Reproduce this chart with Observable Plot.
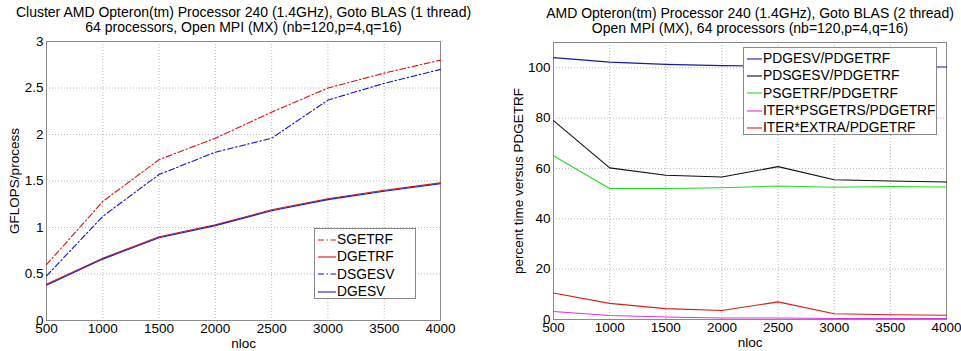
<!DOCTYPE html>
<html><head><meta charset="utf-8">
<script src="https://cdn.jsdelivr.net/npm/d3@7"></script>
<script src="https://cdn.jsdelivr.net/npm/@observablehq/plot@0.6"></script>
<style>
body{margin:0;background:#fff;font-family:"Liberation Sans",Arial,sans-serif;}
#wrap{position:relative;width:961px;height:351px;overflow:hidden;}
#left{position:absolute;left:0;top:0}
#right{position:absolute;left:480px;top:0}
.legend{position:absolute;background:#fff;border:1px solid #888;font-size:13.8px;color:#000;box-sizing:border-box;padding:2px 3px 0 3px;}
.legend .row{display:flex;align-items:center;height:17.3px;white-space:nowrap;}
.legend svg{flex:none;margin-right:1px}
</style></head>
<body><div id="wrap"><div id="left"></div><div id="right"></div></div>
<script>
// ---------- data ----------
const nloc = [500, 1000, 1500, 2000, 2500, 3000, 3500, 4000];
// left panel (GFLOPS/process)
const sgetrf = [0.60, 1.28, 1.73, 1.96, 2.24, 2.50, 2.66, 2.80];
const dgetrf = [0.39, 0.67, 0.90, 1.03, 1.19, 1.31, 1.40, 1.48];
const dsgesv = [0.48, 1.12, 1.57, 1.81, 1.96, 2.37, 2.55, 2.70];
const dgesv  = [0.38, 0.66, 0.89, 1.02, 1.18, 1.30, 1.39, 1.47];
// right panel (percent time versus PDGETRF)
const pdgesvR   = [104.0, 102.2, 101.3, 100.8, 100.6, 100.5, 100.4, 100.3];
const pdsgesvR  = [79.0, 60.2, 57.3, 56.6, 60.7, 55.5, 55.0, 54.6];
const psgetrfR  = [65.0, 52.0, 52.0, 52.3, 53.0, 52.5, 52.8, 52.6];
const iterPsgetrsR = [3.2, 1.6, 1.0, 0.6, 0.6, 0.4, 0.4, 0.4];
const iterExtraR   = [10.5, 6.4, 4.3, 3.6, 7.0, 2.3, 1.9, 1.7];

const xTicks = nloc;
const leftYTicks = [0, 0.5, 1, 1.5, 2, 2.5, 3];
const rightYTicks = [0, 20, 40, 60, 80, 100];

const leftTitle = ["Cluster AMD Opteron(tm) Processor 240 (1.4GHz), Goto BLAS (1 thread)",
                   "64 processors, Open MPI (MX) (nb=120,p=4,q=16)"];
const rightTitle = ["AMD Opteron(tm) Processor 240 (1.4GHz), Goto BLAS (2 thread)",
                    "Open MPI (MX), 64 processors (nb=120,p=4,q=16)"];

const leftSeries = [
  {name: "SGETRF", values: sgetrf, color: "#e01010", dash: "6,2.5,1.5,2.5"},
  {name: "DGETRF", values: dgetrf, color: "#e01010", dash: null},
  {name: "DSGESV", values: dsgesv, color: "#1010d0", dash: "6,2.5,1.5,2.5"},
  {name: "DGESV",  values: dgesv,  color: "#2020c0", dash: null}
];
const rightSeries = [
  {name: "PDGESV/PDGETRF", values: pdgesvR, color: "#1a1aa8", dash: null},
  {name: "PDSGESV/PDGETRF", values: pdsgesvR, color: "#101010", dash: null},
  {name: "PSGETRF/PDGETRF", values: psgetrfR, color: "#22dd22", dash: null},
  {name: "ITER*PSGETRS/PDGETRF", values: iterPsgetrsR, color: "#e030e0", dash: null},
  {name: "ITER*EXTRA/PDGETRF", values: iterExtraR, color: "#dd1a1a", dash: null}
];

const font = "Liberation Sans, Arial, sans-serif";

function panel({width, marginLeft, marginRight, marginTop, marginBottom, yDomain, yTicks, yLabel, yLabelOffset, series, title}) {
  const marks = [
    Plot.gridX(xTicks, {stroke: "#b8b8b8", strokeOpacity: 1, strokeDasharray: "1,2"}),
    Plot.gridY(yTicks, {stroke: "#b8b8b8", strokeOpacity: 1, strokeDasharray: "1,2"}),
    Plot.frame({stroke: "#8a8a8a"}),
    Plot.axisX(xTicks, {anchor: "bottom", tickSize: 0, tickPadding: 3, tickFormat: d => String(d), fontSize: 13.5, label: "nloc", labelAnchor: "center", labelArrow: "none", labelOffset: 27}),
    Plot.axisY(yTicks, {anchor: "left", tickSize: 0, tickPadding: 3, tickFormat: d => String(d), fontSize: 13.5, label: yLabel, labelAnchor: "center", labelArrow: "none", labelOffset: yLabelOffset})
  ];
  for (const s of series) {
    marks.push(Plot.line(nloc.map((x, i) => ({x, y: s.values[i]})), {
      x: "x", y: "y", stroke: s.color, strokeWidth: 1.1, strokeDasharray: s.dash || undefined
    }));
  }
  marks.push(Plot.text([title[0]], {frameAnchor: "top", text: d => d, dy: -25, fontSize: 14, lineAnchor: "bottom"}));
  marks.push(Plot.text([title[1]], {frameAnchor: "top", text: d => d, dy: -10, fontSize: 14, lineAnchor: "bottom"}));
  return Plot.plot({
    width, height: 351, marginLeft, marginRight, marginTop, marginBottom,
    style: {fontFamily: font, fontSize: "13.5px", color: "#000", background: "#fff", overflow: "visible"},
    x: {type: "linear", domain: [500, 4000]},
    y: {type: "linear", domain: yDomain},
    marks
  });
}

document.getElementById("left").append(panel({
  width: 480, marginLeft: 46, marginRight: 40, marginTop: 41, marginBottom: 31,
  yDomain: [0, 3], yTicks: leftYTicks, yLabel: "GFLOPS/process", yLabelOffset: 37,
  series: leftSeries, title: leftTitle
}));
document.getElementById("right").append(panel({
  width: 481, marginLeft: 73, marginRight: 15, marginTop: 42, marginBottom: 32,
  yDomain: [0, 110], yTicks: rightYTicks, yLabel: "percent time versus PDGETRF", yLabelOffset: 40,
  series: rightSeries, title: rightTitle
}));

function legend(series, box, sample) {
  const div = document.createElement("div");
  div.className = "legend";
  Object.assign(div.style, {left: box.x + "px", top: box.y + "px", width: box.w + "px", height: box.h + "px"});
  for (const s of series) {
    const row = document.createElement("div");
    row.className = "row";
    const ns = "http://www.w3.org/2000/svg";
    const svg = document.createElementNS(ns, "svg");
    svg.setAttribute("width", sample); svg.setAttribute("height", 10);
    const ln = document.createElementNS(ns, "line");
    ln.setAttribute("x1", 0); ln.setAttribute("x2", sample);
    ln.setAttribute("y1", 5); ln.setAttribute("y2", 5);
    ln.setAttribute("stroke", s.color); ln.setAttribute("stroke-width", 1.1);
    if (s.dash) ln.setAttribute("stroke-dasharray", s.dash);
    svg.append(ln);
    const t = document.createElement("span");
    t.textContent = s.name;
    row.append(svg, t);
    div.append(row);
  }
  document.getElementById("wrap").append(div);
}
legend(leftSeries, {x: 314, y: 228, w: 102, h: 71}, 18);
legend(rightSeries, {x: 743, y: 47, w: 194, h: 88}, 15);
</script></body></html>
